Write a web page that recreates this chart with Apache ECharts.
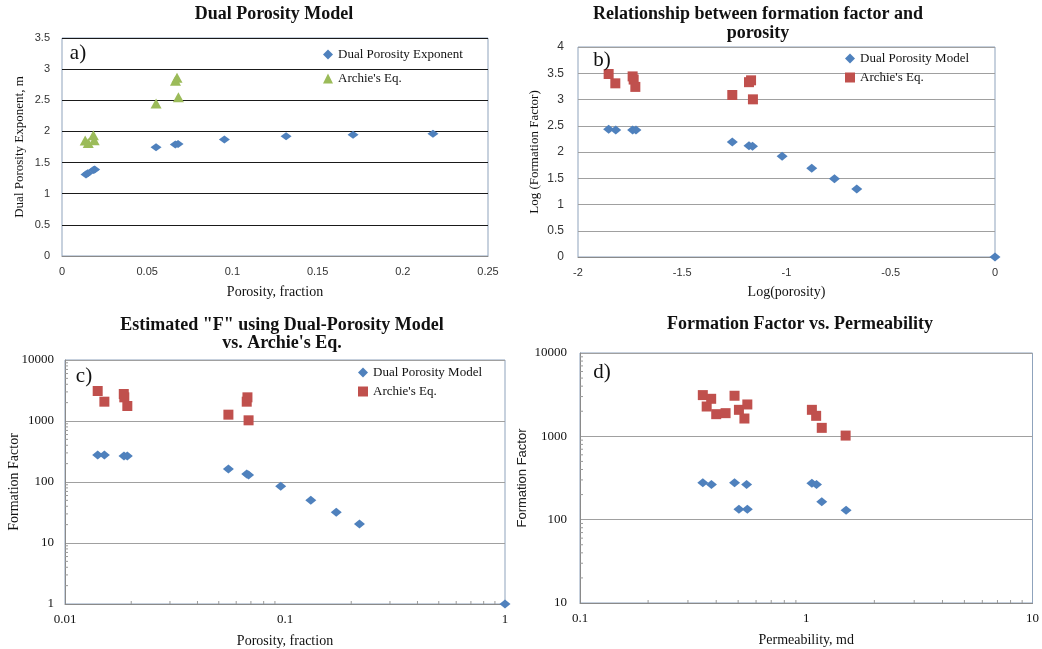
<!DOCTYPE html>
<html><head><meta charset="utf-8">
<script src="https://cdn.jsdelivr.net/npm/echarts@6/dist/echarts.min.js"></script>
<style>html,body{margin:0;padding:0;background:#fff}#c{width:1042px;height:649px}</style>
</head><body><div id="c"></div>
<script>
// ---- Panel a: Dual Porosity Model ----
const aPorosityDual = [0.0141, 0.0151, 0.0185, 0.0192, 0.0552, 0.0665, 0.0681, 0.0953, 0.1315, 0.1708, 0.2177];
const aExponentDual = [1.31, 1.33, 1.38, 1.39, 1.745, 1.79, 1.80, 1.87, 1.924, 1.945, 1.961];
const aPorosityArchie = [0.0136, 0.0154, 0.0184, 0.0189, 0.0552, 0.0666, 0.0675, 0.0683];
const aExponentArchie = [1.856, 1.815, 1.94, 1.86, 2.45, 2.815, 2.86, 2.55];
const aXTicks = [0, 0.25, 0.05];   // min, max, interval
const aYTicks = [0, 3.5, 0.5];

// ---- Panel b: log-log relationship ----
const bLogPhiDual = [-1.853, -1.819, -1.738, -1.722, -1.26, -1.18, -1.163, -1.021, -0.879, -0.77, -0.663, 0];
const bLogFDual = [2.432, 2.419, 2.419, 2.419, 2.19, 2.12, 2.108, 1.917, 1.689, 1.492, 1.295, 0];
const bLogPhiArchie = [-1.853, -1.821, -1.738, -1.733, -1.725, -1.26, -1.18, -1.17, -1.161];
const bLogFArchie = [3.486, 3.308, 3.44, 3.38, 3.24, 3.086, 3.33, 3.365, 3.003];
const bXTicks = [-2, 0, 0.5];
const bYTicks = [0, 4, 0.5];

// ---- Panel c: Estimated F vs porosity ----
const cPorosityDual = [0.01408, 0.0151, 0.01854, 0.0192, 0.0553, 0.0670, 0.0683, 0.0956, 0.131, 0.171, 0.218, 1];
const cFDual = [277, 277, 267, 267, 163, 135, 130, 85, 50, 32, 20.5, 1];
const cPorosityArchie = [0.01408, 0.0151, 0.0185, 0.0186, 0.0192, 0.0553, 0.067, 0.0675, 0.0683];
const cFArchie = [3103, 2074, 2773, 2443, 1762, 1270, 2074, 2443, 1026];
const cXRange = [0.01, 1];
const cYRange = [1, 10000];
const cMinorX = [0.02, 0.03, 0.04, 0.05, 0.06, 0.07, 0.08, 0.09, 0.2, 0.3, 0.4, 0.5, 0.6, 0.7, 0.8, 0.9];
const cMinorY = [2, 3, 4, 5, 6, 7, 8, 9, 20, 30, 40, 50, 60, 70, 80, 90, 200, 300, 400, 500, 600, 700, 800, 900, 2000, 3000, 4000, 5000, 6000, 7000, 8000, 9000];

// ---- Panel d: Formation factor vs permeability ----
const dPermArchie = [0.349, 0.380, 0.363, 0.400, 0.440, 0.482, 0.504, 0.549, 0.533, 1.059, 1.106, 1.171, 1.493];
const dFArchie = [3124, 2821, 2280, 1845, 1897, 3069, 2080, 2412, 1636, 2080, 1762, 1264, 1021];
const dPermDual = [0.349, 0.381, 0.482, 0.545, 0.504, 0.549, 1.059, 1.11, 1.171, 1.50];
const dFDual = [278, 265, 278, 265, 133, 133, 273, 265, 164, 130];
const dXRange = [0.1, 10];
const dYRange = [10, 10000];
const dMinorX = [0.2, 0.3, 0.4, 0.5, 0.6, 0.7, 0.8, 0.9, 2, 3, 4, 5, 6, 7, 8, 9];
const dMinorY = [20, 30, 40, 50, 60, 70, 80, 90, 200, 300, 400, 500, 600, 700, 800, 900, 2000, 3000, 4000, 5000, 6000, 7000, 8000, 9000];

// legend display names per series id
const legendNames = {
  aDual: 'Dual Porosity Exponent', aArchie: "Archie's Eq.",
  bDual: 'Dual Porosity Model', bArchie: "Archie's Eq.",
  cDual: 'Dual Porosity Model', cArchie: "Archie's Eq."
};

const BLUE = '#4F81BD', RED = '#C0504D', GREEN = '#9BBB59';
const SERIF = '"Liberation Serif", "DejaVu Serif", serif';
const SANS = '"Liberation Sans", "DejaVu Sans", sans-serif';
const pairs = (xs, ys) => xs.map((x, i) => [x, ys[i]]);
const logFmt = v => String(+(+v).toPrecision(6));

const grids = [
  {left: 62, top: 38, width: 426, height: 218},
  {left: 578, top: 47, width: 417, height: 210},
  {left: 65, top: 360, width: 440, height: 244},
  {left: 580, top: 353, width: 456, height: 250}
].map(g => Object.assign({show: true, borderColor: '#8FA3BC', borderWidth: 1, backgroundColor: '#fff', containLabel: false}, g));

const axisLineGray = {show: true, lineStyle: {color: '#8A8A8A', width: 1}};
const nameStyle = {fontFamily: SERIF, fontSize: 14, color: '#111'};

const xAxes = [
  {gridIndex: 0, type: 'value', min: aXTicks[0], max: aXTicks[1], interval: aXTicks[2],
   name: 'Porosity, fraction', nameLocation: 'middle', nameGap: 29, nameTextStyle: nameStyle,
   axisLine: axisLineGray, axisTick: {show: false}, splitLine: {show: false},
   axisLabel: {fontFamily: SANS, fontSize: 11, color: '#333', margin: 10}},
  {gridIndex: 1, type: 'value', min: bXTicks[0], max: bXTicks[1], interval: bXTicks[2],
   name: 'Log(porosity)', nameLocation: 'middle', nameGap: 28, nameTextStyle: nameStyle,
   axisLine: axisLineGray, axisTick: {show: false}, splitLine: {show: false},
   axisLabel: {fontFamily: SANS, fontSize: 11, color: '#333', margin: 10}},
  {gridIndex: 2, type: 'log', logBase: 10, min: cXRange[0], max: cXRange[1],
   name: 'Porosity, fraction', nameLocation: 'middle', nameGap: 30, nameTextStyle: nameStyle,
   axisLine: axisLineGray, axisTick: {show: false}, splitLine: {show: false},
   axisLabel: {fontFamily: SERIF, fontSize: 13, color: '#111', margin: 9, formatter: logFmt}},
  {gridIndex: 3, type: 'log', logBase: 10, min: dXRange[0], max: dXRange[1],
   name: 'Permeability, md', nameLocation: 'middle', nameGap: 30, nameTextStyle: nameStyle,
   axisLine: axisLineGray, axisTick: {show: false}, splitLine: {show: false},
   axisLabel: {fontFamily: SERIF, fontSize: 13, color: '#111', margin: 9, formatter: logFmt}}
];

const yAxes = [
  {gridIndex: 0, type: 'value', min: aYTicks[0], max: aYTicks[1], interval: aYTicks[2],
   name: 'Dual Porosity Exponent, m', nameLocation: 'middle', nameGap: 36, nameTextStyle: {fontFamily: SERIF, fontSize: 13, color: '#111'},
   axisLine: {show: false}, axisTick: {show: false},
   splitLine: {show: true, lineStyle: {color: '#1a1a1a', width: 1}},
   axisLabel: {fontFamily: SANS, fontSize: 11, color: '#333', margin: 12}},
  {gridIndex: 1, type: 'value', min: bYTicks[0], max: bYTicks[1], interval: bYTicks[2],
   name: 'Log (Formation Factor)', nameLocation: 'middle', nameGap: 37, nameTextStyle: {fontFamily: SERIF, fontSize: 13, color: '#111'},
   axisLine: {show: false}, axisTick: {show: false},
   splitLine: {show: true, lineStyle: {color: '#A0A0A0', width: 1}},
   axisLabel: {fontFamily: SANS, fontSize: 12, color: '#333', margin: 14}},
  {gridIndex: 2, type: 'log', logBase: 10, min: cYRange[0], max: cYRange[1],
   name: 'Formation Factor', nameLocation: 'middle', nameGap: 44, nameMoveOverlap: false,
   nameTextStyle: {fontFamily: SERIF, fontSize: 14, color: '#111'},
   axisLine: axisLineGray, axisTick: {show: false},
   splitLine: {show: true, lineStyle: {color: '#A0A0A0', width: 1}},
   axisLabel: {fontFamily: SERIF, fontSize: 13, color: '#111', margin: 11, formatter: logFmt}},
  {gridIndex: 3, type: 'log', logBase: 10, min: dYRange[0], max: dYRange[1],
   name: 'Formation Factor', nameLocation: 'middle', nameGap: 51, nameTextStyle: {fontFamily: SANS, fontSize: 13, color: '#222'},
   axisLine: axisLineGray, axisTick: {show: false},
   splitLine: {show: true, lineStyle: {color: '#A0A0A0', width: 1}},
   axisLabel: {fontFamily: SERIF, fontSize: 13, color: '#111', margin: 13, formatter: logFmt}}
];

function scatter(name, idx, data, symbol, size, color) {
  return {type: 'scatter', name, xAxisIndex: idx, yAxisIndex: idx, data, symbol, symbolSize: size,
          itemStyle: {color, opacity: 1}, clip: false, z: 3, silent: true};
}
function minorTicks(idx, values, fixed, dir) {
  const data = values.map(v => dir === 'x' ? [v, fixed] : [fixed, v]);
  return {type: 'custom', xAxisIndex: idx, yAxisIndex: idx, silent: true, clip: false, z: 2, data,
    renderItem: (p, api) => {
      const pt = api.coord([api.value(0), api.value(1)]);
      const shape = dir === 'x'
        ? {x1: pt[0], y1: pt[1], x2: pt[0], y2: pt[1] - 3}
        : {x1: pt[0], y1: pt[1], x2: pt[0] + 3, y2: pt[1]};
      return {type: 'line', shape, style: {stroke: '#9A9A9A', lineWidth: 1}};
    }};
}

const series = [
  scatter('aDual', 0, pairs(aPorosityDual, aExponentDual), 'diamond', [11, 8], BLUE),
  scatter('aArchie', 0, pairs(aPorosityArchie, aExponentArchie), 'triangle', [11, 10], GREEN),
  scatter('bDual', 1, pairs(bLogPhiDual, bLogFDual), 'diamond', [11, 9], BLUE),
  scatter('bArchie', 1, pairs(bLogPhiArchie, bLogFArchie), 'rect', [10, 10], RED),
  scatter('cDual', 2, pairs(cPorosityDual, cFDual), 'diamond', [11, 9], BLUE),
  scatter('cArchie', 2, pairs(cPorosityArchie, cFArchie), 'rect', [10, 10], RED),
  scatter('dDual', 3, pairs(dPermDual, dFDual), 'diamond', [11, 9], BLUE),
  scatter('dArchie', 3, pairs(dPermArchie, dFArchie), 'rect', [10, 10], RED),
  minorTicks(2, cMinorX, cYRange[0], 'x'),
  minorTicks(2, cMinorY, cXRange[0], 'y'),
  minorTicks(3, dMinorX, dYRange[0], 'x'),
  minorTicks(3, dMinorY, dXRange[0], 'y')
];

const legendText = {fontFamily: SERIF, fontSize: 13, color: '#111'};
const legendFmt = n => legendNames[n] || n;
const legends = [
  {left: 318, top: 43, orient: 'vertical', itemGap: 11, itemWidth: 10, itemHeight: 10, textStyle: legendText, formatter: legendFmt,
   data: [{name: 'aDual', icon: 'diamond'}, {name: 'aArchie', icon: 'triangle'}], selectedMode: false},
  {left: 840, top: 47, orient: 'vertical', itemGap: 6, itemWidth: 10, itemHeight: 10, textStyle: legendText, formatter: legendFmt,
   data: [{name: 'bDual', icon: 'diamond'}, {name: 'bArchie', icon: 'rect'}], selectedMode: false},
  {left: 353, top: 361, orient: 'vertical', itemGap: 6, itemWidth: 10, itemHeight: 10, textStyle: legendText, formatter: legendFmt,
   data: [{name: 'cDual', icon: 'diamond'}, {name: 'cArchie', icon: 'rect'}], selectedMode: false}
];

const titleFont = 'bold 18px ' + SERIF;
const labelFont = '21px ' + SERIF;
const txt = (x, y, text, font, extra) => ({type: 'text', x, y, silent: true, z: 10,
  style: Object.assign({text, font, fill: '#111', textAlign: 'center', textVerticalAlign: 'middle'}, extra || {})});
const graphics = [
  txt(274, 14, 'Dual Porosity Model', titleFont),
  txt(758, 24, 'Relationship between formation factor and\nporosity', titleFont, {lineHeight: 19}),
  txt(282, 334, 'Estimated "F" using Dual-Porosity Model\nvs. Archie\'s Eq.', titleFont, {lineHeight: 18}),
  txt(800, 324, 'Formation Factor vs. Permeability', titleFont),
  txt(78, 53, 'a)', labelFont),
  txt(602, 60, 'b)', labelFont),
  txt(84, 376, 'c)', labelFont),
  txt(602, 372, 'd)', labelFont)
];

const chart = echarts.init(document.getElementById('c'), null, {renderer: 'canvas'});
chart.setOption({
  backgroundColor: '#fff',
  animation: false,
  grid: grids,
  xAxis: xAxes,
  yAxis: yAxes,
  legend: legends,
  series,
  graphic: graphics
});
</script></body></html>
